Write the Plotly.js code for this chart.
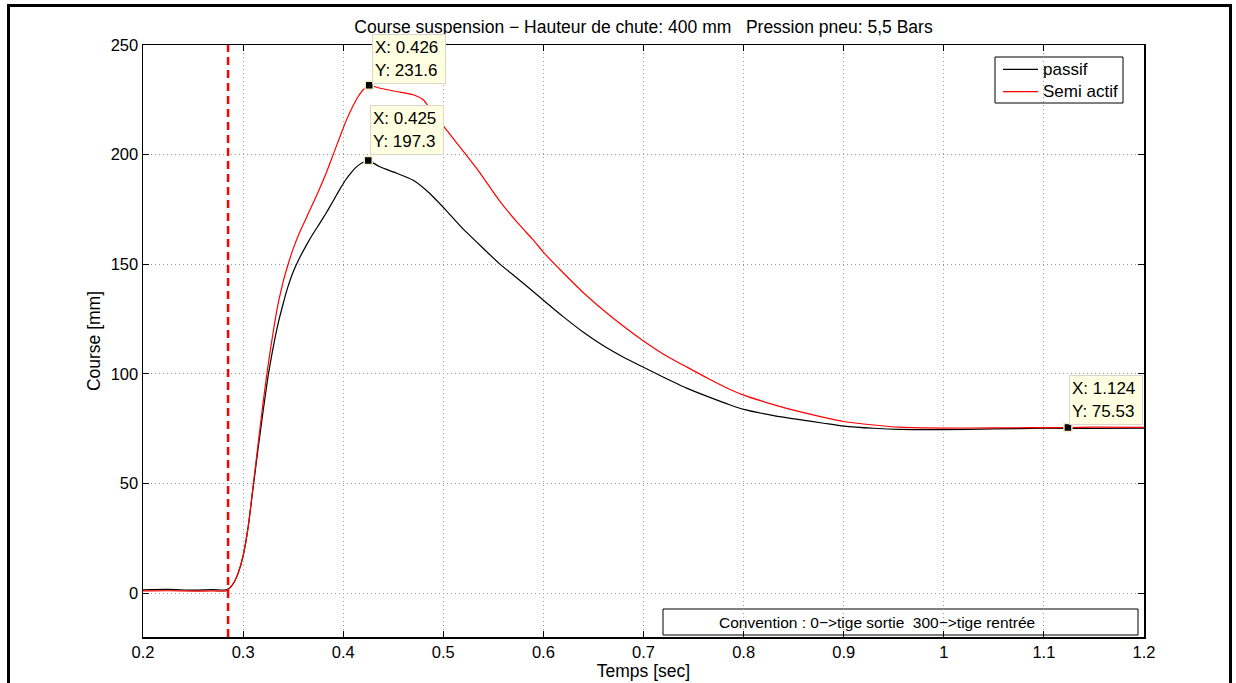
<!DOCTYPE html>
<html>
<head>
<meta charset="utf-8">
<script src="https://cdn.plot.ly/plotly-3.0.1.min.js"></script>
<style>
  html, body { margin: 0; padding: 0; background: #ffffff; }
  #wrap { position: relative; width: 1236px; height: 683px; overflow: hidden; }
  #chart { position: absolute; left: 0; top: 0; width: 1236px; height: 683px; }
  #frame { position: absolute; left: 7px; top: 4px; width: 1219px; height: 720px;
           border: 3px solid #000; pointer-events: none; }
</style>
</head>
<body>
<div id="wrap">
  <div id="chart"></div>
  <div id="frame"></div>
</div>
<script>
// ---- Data ----
const tPassif = [0.200, 0.225, 0.250, 0.270, 0.283, 0.287, 0.291, 0.295, 0.300, 0.305, 0.310, 0.315, 0.320, 0.325, 0.330, 0.335, 0.340, 0.345, 0.350, 0.356, 0.363, 0.370, 0.377, 0.383, 0.387, 0.392, 0.397, 0.402, 0.408, 0.413, 0.419, 0.425, 0.436, 0.453, 0.470, 0.486, 0.503, 0.520, 0.540, 0.556, 0.575, 0.590, 0.600, 0.620, 0.640, 0.660, 0.680, 0.700, 0.720, 0.743, 0.765, 0.786, 0.800, 0.830, 0.856, 0.880, 0.900, 0.930, 0.956, 1.000, 1.050, 1.100, 1.150, 1.200];
const yPassif = [1.5, 1.7, 1.4, 1.6, 1.5, 2.5, 5, 9, 17, 30, 48, 66, 83, 99, 112, 123, 132, 140, 146.5, 152.5, 158.5, 164, 169, 173.4, 176.5, 180.5, 184.5, 188.2, 191.8, 194.3, 196.3, 197.3, 194.6, 191.6, 188.3, 182.5, 174.5, 166, 157.2, 150.3, 143.2, 137.5, 133.6, 126, 119, 112.8, 107.6, 103, 98.5, 93.5, 89.5, 85.9, 83.8, 81, 79.1, 77.5, 76.2, 75.2, 74.7, 74.6, 74.9, 75.2, 75.1, 75.2];

const tSemi = [0.200, 0.225, 0.250, 0.270, 0.283, 0.287, 0.291, 0.295, 0.300, 0.305, 0.310, 0.315, 0.320, 0.325, 0.330, 0.335, 0.340, 0.345, 0.350, 0.356, 0.362, 0.368, 0.375, 0.383, 0.390, 0.397, 0.403, 0.409, 0.415, 0.420, 0.426, 0.436, 0.453, 0.470, 0.480, 0.486, 0.493, 0.501, 0.510, 0.520, 0.536, 0.556, 0.575, 0.590, 0.600, 0.620, 0.640, 0.660, 0.680, 0.700, 0.720, 0.743, 0.765, 0.786, 0.800, 0.830, 0.856, 0.880, 0.900, 0.930, 0.956, 1.000, 1.050, 1.124, 1.150, 1.200];
const ySemi = [1.0, 1.1, 0.9, 1.0, 1.0, 2.5, 5, 9, 17, 30, 49, 68, 87, 104, 119, 132, 142, 150, 157, 164, 170, 176, 183, 191.6, 200, 208.5, 215.5, 221.5, 226.5, 229.6, 231.6, 230.4, 228.8, 227.3, 225, 221.3, 217, 212.5, 207.3, 201.5, 192, 179, 168.5, 161, 155.5, 146, 137, 129, 121.7, 115, 109, 103.2, 97.8, 93, 90.3, 86, 82.8, 80.2, 78.3, 76.7, 75.7, 75.3, 75.4, 75.53, 75.7, 75.6];

const seriesNames = ['passif', 'Semi actif'];
const seriesColors = ['#000000', '#ff0000'];
const tipX = [0.426, 0.425, 1.124];
const tipY = [231.6, 197.3, 75.53];
const tipLabels = ['X: 0.426<br>Y: 231.6', 'X: 0.425<br>Y: 197.3', 'X: 1.124<br>Y: 75.53'];
const impactTime = 0.285;
const xTicks = [0.2, 0.3, 0.4, 0.5, 0.6, 0.7, 0.8, 0.9, 1, 1.1, 1.2];
const xTickText = ['0.2', '0.3', '0.4', '0.5', '0.6', '0.7', '0.8', '0.9', '1', '1.1', '1.2'];
const yTicks = [0, 50, 100, 150, 200, 250];

const titleText = 'Course suspension \u2212 Hauteur de chute: 400 mm   Pression pneu: 5,5 Bars';
const xTitle = 'Temps [sec]';
const yTitle = 'Course [mm]';
const conventionText = 'Convention : 0\u2212>tige sortie  300\u2212>tige rentr\u00e9e';

// ---- Chart ----
const FONT = 'Liberation Sans, Arial, Helvetica, sans-serif';

const traces = [
  { x: tPassif, y: yPassif, name: seriesNames[0], type: 'scatter', mode: 'lines',
    line: { color: seriesColors[0], width: 1.2, shape: 'spline', smoothing: 0.6 } },
  { x: tSemi, y: ySemi, name: seriesNames[1], type: 'scatter', mode: 'lines',
    line: { color: seriesColors[1], width: 1.2, shape: 'spline', smoothing: 0.6 } },
  { x: tipX, y: tipY, type: 'scatter', mode: 'markers', showlegend: false, hoverinfo: 'skip',
    marker: { symbol: 'square', size: 8, color: '#000000', line: { color: '#f2efc8', width: 1.5 } } }
];

// pixel -> paper helpers for decorations (plot area 143..1144 x 45..637)
const PX = p => (p - 143) / 1001;
const PY = p => (637 - p) / 592;

const tipShift = [[3, 1], [2, 6], [1, 3]];
const annotations = tipX.map((x, i) => ({
  x: x, y: tipY[i], xref: 'x', yref: 'y',
  text: tipLabels[i], showarrow: false, align: 'left',
  xanchor: 'left', yanchor: 'bottom', xshift: tipShift[i][0], yshift: tipShift[i][1],
  width: 68, height: 44,
  font: { family: FONT, size: 17, color: '#000' },
  bgcolor: '#ffffe1', bordercolor: '#d8d8c8', borderwidth: 1, borderpad: 2
}));
annotations.push({
  x: PX(877), y: PY(622), xref: 'paper', yref: 'paper', showarrow: false,
  text: conventionText, xanchor: 'center', yanchor: 'middle',
  font: { family: FONT, size: 15.5, color: '#000' }
});
// custom legend texts
const legendRows = [69.3, 91.7];
seriesNames.forEach((n, i) => annotations.push({
  x: PX(1041), y: PY(legendRows[i]), xref: 'paper', yref: 'paper', showarrow: false,
  text: n, xanchor: 'left', yanchor: 'middle',
  font: { family: FONT, size: 17, color: '#000' }
}));

const shapes = [
  { type: 'line', xref: 'x', yref: 'paper', x0: impactTime, x1: impactTime, y0: 0, y1: 1,
    line: { color: '#ff0000', width: 2.5, dash: '8px,5px' } },
  { type: 'rect', xref: 'paper', yref: 'paper', layer: 'between',
    x0: PX(663), x1: PX(1138), y0: PY(635), y1: PY(609),
    fillcolor: '#ffffff', line: { color: '#000000', width: 1 } },
  { type: 'rect', xref: 'paper', yref: 'paper', layer: 'between',
    x0: PX(995), x1: PX(1123), y0: PY(103), y1: PY(57),
    fillcolor: '#ffffff', line: { color: '#000000', width: 1 } }
];
seriesColors.forEach((c, i) => shapes.push({
  type: 'line', xref: 'paper', yref: 'paper',
  x0: PX(1003), x1: PX(1038), y0: PY(legendRows[i]), y1: PY(legendRows[i]),
  line: { color: c, width: 1.2 }
}));

const layout = {
  width: 1236, height: 683,
  margin: { l: 143, r: 92, t: 45, b: 46 },
  paper_bgcolor: '#ffffff', plot_bgcolor: '#ffffff',
  font: { family: FONT, size: 16, color: '#000' },
  showlegend: false,
  title: { text: titleText, x: 0.5, xref: 'paper', xanchor: 'center',
           y: 1 - 27 / 683, yref: 'container', yanchor: 'middle',
           font: { family: FONT, size: 17.5, color: '#000' } },
  xaxis: {
    range: [0.2, 1.2], tickmode: 'array', tickvals: xTicks, ticktext: xTickText,
    ticks: 'inside', ticklen: 6, tickwidth: 1, tickcolor: '#000',
    showline: true, linecolor: '#000', linewidth: 1.5, mirror: 'ticks',
    showgrid: true, gridcolor: '#9a9a9a', gridwidth: 1, griddash: '1px,3px',
    zeroline: false, tickfont: { size: 16.5 },
    title: { text: xTitle, standoff: 2, font: { size: 17.5 } }, automargin: false
  },
  yaxis: {
    range: [-20, 250], tickmode: 'array', tickvals: yTicks,
    ticks: 'inside', ticklen: 6, tickwidth: 1, tickcolor: '#000',
    showline: true, linecolor: '#000', linewidth: 1.5, mirror: 'ticks',
    showgrid: true, gridcolor: '#9a9a9a', gridwidth: 1, griddash: '1px,3px',
    zeroline: false, tickfont: { size: 16.5 },
    title: { text: yTitle, standoff: 5, font: { size: 17.5 } }, automargin: false
  },
  shapes: shapes,
  annotations: annotations
};

Plotly.newPlot('chart', traces, layout, { staticPlot: true, displayModeBar: false });
</script>
</body>
</html>
